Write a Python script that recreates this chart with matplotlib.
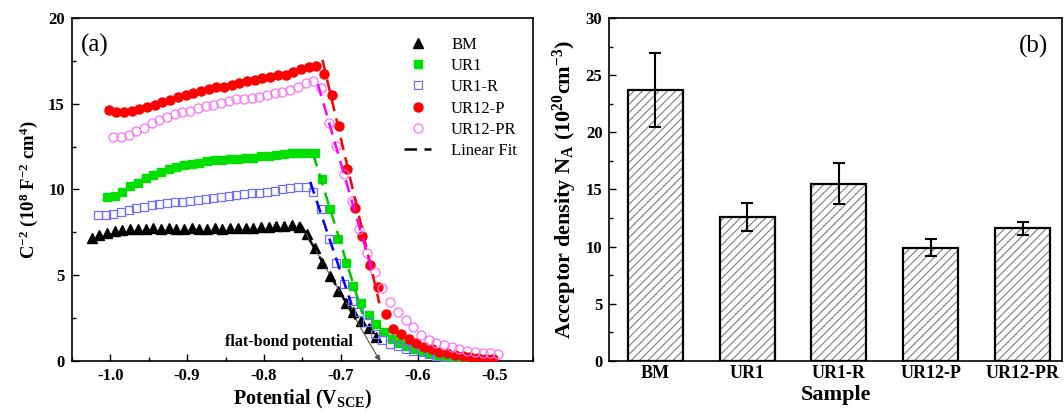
import numpy as np
import matplotlib
matplotlib.use('Agg')
import matplotlib.pyplot as plt
from matplotlib.lines import Line2D

plt.rcParams['font.family'] = ['Liberation Serif', 'DejaVu Serif']
plt.rcParams['mathtext.fontset'] = 'custom'
plt.rcParams['mathtext.rm'] = 'Liberation Serif'
plt.rcParams['mathtext.bf'] = 'Liberation Serif:bold'
plt.rcParams['mathtext.it'] = 'Liberation Serif:italic'
plt.rcParams['mathtext.default'] = 'bf'
plt.rcParams['hatch.linewidth'] = 0.8

# Mott-Schottky data: potential (V vs SCE) and C^-2 (1e8 F^-2 cm^4)
v_bm = [-1.024, -1.014, -1.004, -0.994, -0.984, -0.974, -0.964, -0.954, -0.944, -0.934,
        -0.924, -0.914, -0.904, -0.894, -0.884, -0.874, -0.864, -0.854, -0.844, -0.834,
        -0.824, -0.814, -0.804, -0.794, -0.784, -0.774, -0.764, -0.754, -0.744, -0.734,
        -0.724, -0.714, -0.704, -0.694, -0.684, -0.674, -0.664, -0.654]
c_bm = [7.20, 7.34, 7.48, 7.57, 7.63, 7.67, 7.70, 7.72, 7.73, 7.72,
        7.73, 7.72, 7.72, 7.73, 7.72, 7.72, 7.73, 7.72, 7.73, 7.74,
        7.75, 7.77, 7.80, 7.83, 7.86, 7.90, 7.94, 7.82, 7.40, 6.60,
        5.70, 4.95, 4.10, 3.40, 2.85, 2.35, 1.92, 1.40]

v_ur1 = [-1.004, -0.994, -0.984, -0.974, -0.964, -0.954, -0.944, -0.934, -0.924, -0.914,
         -0.904, -0.894, -0.884, -0.874, -0.864, -0.854, -0.844, -0.834, -0.824, -0.814,
         -0.804, -0.794, -0.784, -0.774, -0.764, -0.754, -0.744, -0.734, -0.724, -0.714,
         -0.704, -0.694, -0.684, -0.674, -0.664, -0.654, -0.644, -0.634, -0.624, -0.614,
         -0.604, -0.594, -0.584, -0.574, -0.564, -0.554, -0.544, -0.534, -0.524, -0.514,
         -0.504]
c_ur1 = [9.57, 9.60, 9.85, 10.20, 10.40, 10.65, 10.85, 11.00, 11.20, 11.30,
         11.45, 11.50, 11.55, 11.65, 11.70, 11.70, 11.75, 11.80, 11.85, 11.85,
         11.95, 11.95, 12.00, 12.05, 12.10, 12.15, 12.15, 12.15, 10.60, 8.85,
         7.10, 5.70, 4.35, 3.40, 2.68, 2.15, 1.70, 1.30, 1.05, 0.85,
         0.70, 0.57, 0.46, 0.37, 0.30, 0.25, 0.20, 0.16, 0.13, 0.11,
         0.09]

v_ur1r = [-1.016, -1.006, -0.996, -0.986, -0.976, -0.966, -0.956, -0.946, -0.936, -0.926,
          -0.916, -0.906, -0.896, -0.886, -0.876, -0.866, -0.856, -0.846, -0.836, -0.826,
          -0.816, -0.806, -0.796, -0.786, -0.776, -0.766, -0.756, -0.746, -0.736, -0.726,
          -0.716, -0.706, -0.696, -0.686, -0.676, -0.666, -0.656, -0.646, -0.636, -0.626,
          -0.616, -0.606, -0.596, -0.586, -0.576, -0.566, -0.556, -0.546, -0.536, -0.526]
c_ur1r = [8.50, 8.50, 8.60, 8.70, 8.80, 8.90, 9.00, 9.08, 9.15, 9.20,
          9.25, 9.30, 9.35, 9.40, 9.45, 9.50, 9.57, 9.63, 9.68, 9.72,
          9.77, 9.80, 9.86, 9.94, 10.02, 10.10, 10.14, 10.14, 9.86, 8.85,
          7.10, 5.70, 4.50, 3.50, 2.83, 2.30, 1.55, 1.20, 1.00, 0.85,
          0.70, 0.60, 0.50, 0.40, 0.30, 0.22, 0.16, 0.11, 0.08, 0.06]

v_ur12p = [-1.002, -0.992, -0.982, -0.972, -0.962, -0.952, -0.942, -0.932, -0.922, -0.912,
           -0.902, -0.892, -0.882, -0.872, -0.862, -0.852, -0.842, -0.832, -0.822, -0.812,
           -0.802, -0.792, -0.782, -0.772, -0.762, -0.752, -0.742, -0.732, -0.722, -0.712,
           -0.702, -0.692, -0.682, -0.672, -0.662, -0.652, -0.642, -0.632, -0.622, -0.612,
           -0.602, -0.592, -0.582, -0.572, -0.562, -0.552, -0.542, -0.532, -0.522, -0.512,
           -0.502]
c_ur12p = [14.62, 14.50, 14.50, 14.55, 14.70, 14.80, 14.95, 15.10, 15.20, 15.40,
           15.50, 15.60, 15.75, 15.85, 15.95, 16.00, 16.10, 16.20, 16.30, 16.40,
           16.50, 16.55, 16.65, 16.70, 16.85, 17.00, 17.15, 17.20, 16.75, 15.50,
           13.70, 11.20, 8.90, 7.30, 5.60, 4.30, 2.72, 1.87, 1.55, 1.26,
           1.03, 0.84, 0.70, 0.54, 0.45, 0.35, 0.29, 0.21, 0.16, 0.12,
           0.10]

v_ur12pr = [-0.996, -0.986, -0.976, -0.966, -0.956, -0.946, -0.936, -0.926, -0.916, -0.906,
            -0.896, -0.886, -0.876, -0.866, -0.856, -0.846, -0.836, -0.826, -0.816, -0.806,
            -0.796, -0.786, -0.776, -0.766, -0.756, -0.746, -0.736, -0.726, -0.716, -0.706,
            -0.696, -0.686, -0.676, -0.666, -0.656, -0.646, -0.636, -0.626, -0.616, -0.606,
            -0.596, -0.586, -0.576, -0.566, -0.556, -0.546, -0.536, -0.526, -0.516, -0.506,
            -0.496]
c_ur12pr = [13.07, 13.07, 13.20, 13.40, 13.60, 13.85, 14.05, 14.25, 14.40, 14.50,
            14.60, 14.75, 14.85, 14.95, 15.05, 15.15, 15.25, 15.30, 15.35, 15.40,
            15.50, 15.60, 15.70, 15.80, 16.00, 16.20, 16.30, 15.90, 13.90, 12.55,
            10.90, 9.35, 7.70, 6.30, 5.20, 4.24, 3.42, 2.88, 2.39, 1.96,
            1.52, 1.22, 1.07, 0.93, 0.80, 0.70, 0.60, 0.54, 0.48, 0.45,
            0.39]

# acceptor density (1e20 cm^-3) with error
samples = ['BM', 'UR1', 'UR1-R', 'UR12-P', 'UR12-PR']
na = [23.7, 12.6, 15.5, 9.9, 11.6]
na_err = [3.2, 1.2, 1.8, 0.75, 0.55]

# series: data, fit window (V), drawn span of the fit line (V), style
series = [
    ('BM', v_bm, c_bm, (-0.745, -0.683), (-0.754, -0.676),
     dict(marker='^', color='black', mfc='black', ms=6.5), 'black'),
    ('UR1', v_ur1, c_ur1, (-0.725, -0.673), (-0.736, -0.672),
     dict(marker='s', color='#00e000', mfc='#00e000', ms=5.5), '#00c800'),
    ('UR1-R', v_ur1r, c_ur1r, (-0.727, -0.685), (-0.740, -0.686),
     dict(marker='s', color='#7070ff', mfc='none', ms=5.5, mew=0.9), '#0000ff'),
    ('UR12-P', v_ur12p, c_ur12p, (-0.713, -0.651), (-0.724, -0.650),
     dict(marker='o', color='#ff0000', mfc='#ff0000', ms=6.5), '#ff0000'),
    ('UR12-PR', v_ur12pr, c_ur12pr, (-0.717, -0.665), (-0.730, -0.660),
     dict(marker='o', color='#ff70ff', mfc='none', ms=6.5, mew=0.9), '#ff00ff'),
]

fig = plt.figure(figsize=(10.64, 4.12), dpi=100)
ax1 = fig.add_axes([0.0674, 0.1238, 0.4338, 0.8325])
ax2 = fig.add_axes([0.5727, 0.1238, 0.4255, 0.8325])

tick_font = dict(fontsize=12, fontweight='bold')

# ---- (a) Mott-Schottky plot ----
handles = []
fits = []
for name, v, c, win, span, style, fcol in series:
    v = np.array(v)
    c = np.array(c)
    h, = ax1.plot(v, c, linestyle='none', label=name, zorder=3, **style)
    handles.append(h)
    sel = (v >= win[0]) & (v <= win[1])
    k, b = np.polyfit(v[sel], c[sel], 1)
    fits.append((name, k, b, span, fcol))

for name, k, b, span, fcol in fits:
    xs = np.array(span)
    if name == 'BM':
        # extrapolate to C^-2 = 0 to mark the flat-band potential
        v0 = -b / k
        ax1.annotate('', xy=(v0, 0), xytext=(span[0], k * span[0] + b),
                     arrowprops=dict(arrowstyle='-|>', color='#555555', lw=0.8,
                                     mutation_scale=8, shrinkA=0, shrinkB=0),
                     zorder=4)
    ax1.plot(xs, k * xs + b, linestyle=(0, (5, 3)), color=fcol, lw=1.8, zorder=5)

handles.append(Line2D([], [], color='black', linestyle=(0, (5, 3)), lw=1.8, label='Linear Fit'))
ax1.legend(handles=handles, loc='upper right', bbox_to_anchor=(0.99, 0.98), frameon=False,
           fontsize=12, handlelength=1.6, handletextpad=1.2, labelspacing=0.32,
           borderpad=0.2)

ax1.text(-0.767, 1.1, 'flat-bond potential', fontsize=11.5, fontweight='bold',
         ha='center', va='center')
ax1.text(0.02, 0.955, '(a)', transform=ax1.transAxes, fontsize=18, va='top', ha='left')

ax1.set_xlim(-1.05, -0.45)
ax1.set_ylim(0, 20)
ax1.set_xticks([-1.0, -0.9, -0.8, -0.7, -0.6, -0.5])
ax1.set_xticks(np.arange(-1.05, -0.449, 0.1), minor=True)
ax1.set_yticks([0, 5, 10, 15, 20])
ax1.set_yticks([2.5, 7.5, 12.5, 17.5], minor=True)
ax1.set_xticklabels(['-1.0', '-0.9', '-0.8', '-0.7', '-0.6', '-0.5'], **tick_font)
ax1.set_yticklabels(['0', '5', '10', '15', '20'], **tick_font)
ax1.set_xlabel('Potential (V$_{SCE}$)', labelpad=3, fontsize=14.5, fontweight='bold')
ax1.set_ylabel('C$^{-2}$ (10$^{8}$ F$^{-2}$ cm$^{4}$)', labelpad=6, fontsize=13.5,
               fontweight='bold')

# ---- (b) acceptor density bars ----
x = np.arange(len(samples))
# grey hatch underneath, black outline on top
ax2.bar(x, na, width=0.6, color='white', edgecolor='#808080', linewidth=0,
        hatch='////', zorder=2)
ax2.bar(x, na, width=0.6, color='none', edgecolor='black', linewidth=1.6, zorder=2.5)
ax2.errorbar(x, na, yerr=na_err, fmt='none', ecolor='black', elinewidth=1.5,
             capsize=4, capthick=1.5, zorder=3)
ax2.text(0.905, 0.95, '(b)', transform=ax2.transAxes, fontsize=18, va='top', ha='left')

ax2.set_xlim(-0.5, 4.43)
ax2.set_ylim(0, 30)
ax2.set_xticks(x)
ax2.set_xticklabels(samples, fontsize=13, fontweight='bold')
ax2.set_yticks([0, 5, 10, 15, 20, 25, 30])
ax2.set_yticks([2.5, 7.5, 12.5, 17.5, 22.5, 27.5], minor=True)
ax2.set_yticklabels(['0', '5', '10', '15', '20', '25', '30'], **tick_font)
ax2.set_xlabel('Sample', labelpad=2, fontsize=16, fontweight='bold')
ax2.set_ylabel('Acceptor density N$_{A}$ (10$^{20}$cm$^{-3}$)', labelpad=5, fontsize=16,
               fontweight='bold')

for ax in (ax1, ax2):
    for sp in ax.spines.values():
        sp.set_linewidth(1.2)
    ax.tick_params(which='both', direction='in', top=False, right=False, width=1.0)
    ax.tick_params(which='major', length=5, pad=5)
    ax.tick_params(which='minor', length=3)
ax2.tick_params(axis='x', pad=3)

fig.savefig('out.png', dpi=100)
